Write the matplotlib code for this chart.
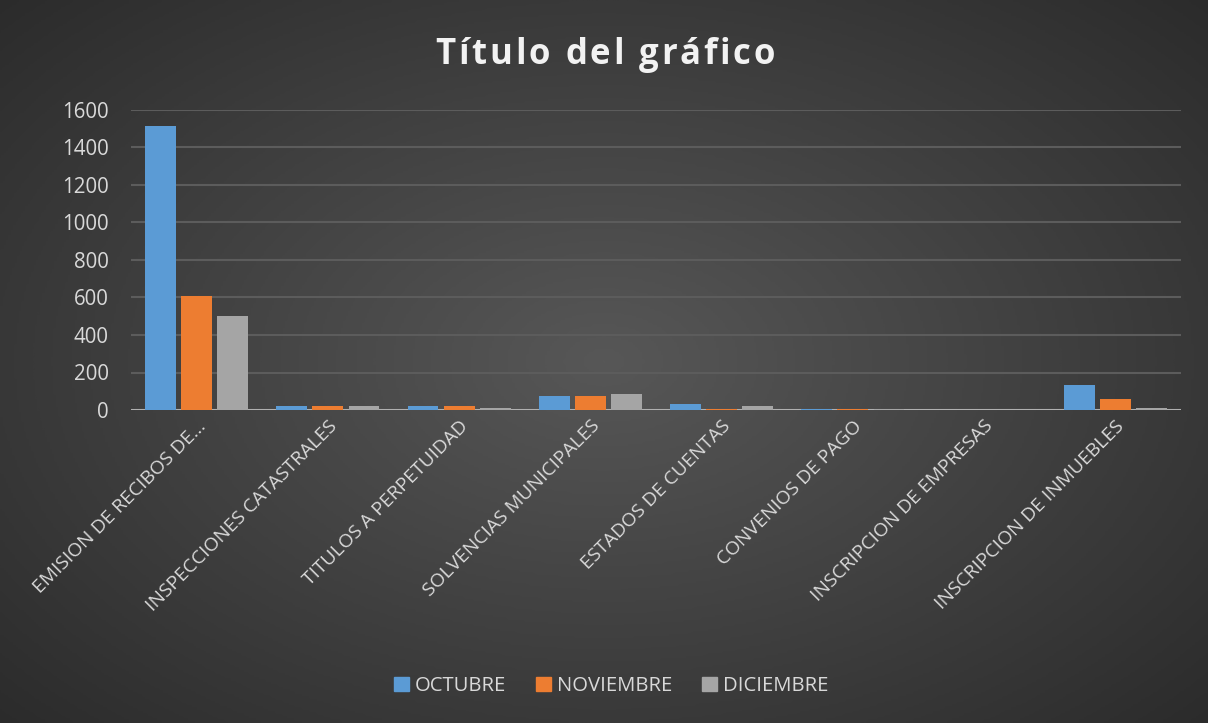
import numpy as np
import matplotlib
matplotlib.use("Agg")
import matplotlib.pyplot as plt
from matplotlib.patches import Patch

plt.rcParams['font.family'] = ['Open Sans', 'DejaVu Sans']

# Data
categories = ['EMISION DE RECIBOS DE...', 'INSPECCIONES CATASTRALES', 'TITULOS A PERPETUIDAD',
              'SOLVENCIAS MUNICIPALES', 'ESTADOS DE CUENTAS', 'CONVENIOS DE PAGO',
              'INSCRIPCION DE EMPRESAS', 'INSCRIPCION DE INMUEBLES']
octubre = [1515, 20, 20, 73, 30, 8, 0, 132]
noviembre = [610, 20, 20, 73, 8, 8, 0, 57]
diciembre = [502, 20, 13, 84, 20, 3, 0, 13]
series_names = ['OCTUBRE', 'NOVIEMBRE', 'DICIEMBRE']
colors = ['#5b9bd5', '#ed7d31', '#a5a5a5']
yticks = [0, 200, 400, 600, 800, 1000, 1200, 1400, 1600]
title = 'Título del gráfico'

W, H = 1208, 723
fig = plt.figure(figsize=(W / 100, H / 100), dpi=100)

# radial dark background
bg = fig.add_axes([0, 0, 1, 1], zorder=-10)
yy, xx = np.mgrid[-1:1:300j, -1:1:500j]
r = np.sqrt((xx * 0.95) ** 2 + (yy * 0.9) ** 2)
bg.imshow(r, cmap=matplotlib.colors.LinearSegmentedColormap.from_list('bg', ['#575757', '#2a2a2a']),
          vmin=0, vmax=1.35, aspect='auto', extent=[0, 1, 0, 1])
bg.axis('off')

ax = fig.add_axes([131 / W, 1 - 410 / H, 1050 / W, 300 / H])
ax.set_facecolor('none')

x = np.arange(len(categories))
w = 0.235
step = 0.275
for i, (vals, c) in enumerate(zip([octubre, noviembre, diciembre], colors)):
    ax.bar(x + (i - 1) * step, vals, width=w, color=c, zorder=3)

ax.set_xlim(-0.5, len(categories) - 0.5)
ax.set_ylim(0, 1600)
ax.set_yticks(yticks)
ax.grid(axis='y', color='#5c5c5c', linewidth=1.5, zorder=0)
ax.axhline(0, color='#b0b0b0', linewidth=2.2, zorder=2)
for s in ax.spines.values():
    s.set_visible(False)
ax.tick_params(axis='both', length=0, colors='#d9d9d9')
ax.tick_params(axis='y', pad=16, labelsize=14.8)
ax.set_xticks(x)
ax.set_xticklabels(categories, rotation=45, ha='right', rotation_mode='anchor', fontsize=13.9)
ax.tick_params(axis='x', pad=5)

# title with letter spacing
renderer = fig.canvas.get_renderer()
tprops = dict(fontsize=25, fontweight='bold', color='#f2f2f2', va='baseline', ha='left')
def text_w(s):
    t = fig.text(0, 0, s, **tprops)
    wdt = t.get_window_extent(renderer).width
    t.remove()
    return wdt
full = text_w(title)
target = 340
gap = (target - full) / (len(title) - 1)
x0 = 435
for i, ch in enumerate(title):
    xi = x0 + text_w(title[:i] + '|') - text_w('|') + i * gap if i else x0
    fig.text(xi / W, 1 - 64 / H, ch, **tprops)

handles = [Patch(color=c, label=n) for c, n in zip(colors, series_names)]
leg = fig.legend(handles=handles, loc='center', bbox_to_anchor=(0.506, 0.051), ncol=3,
                 frameon=False, fontsize=14.6, handlelength=0.7, handleheight=0.7,
                 handletextpad=0.3, columnspacing=1.5)
for t in leg.get_texts():
    t.set_color('#d9d9d9')

fig.savefig('out.png', dpi=100)
